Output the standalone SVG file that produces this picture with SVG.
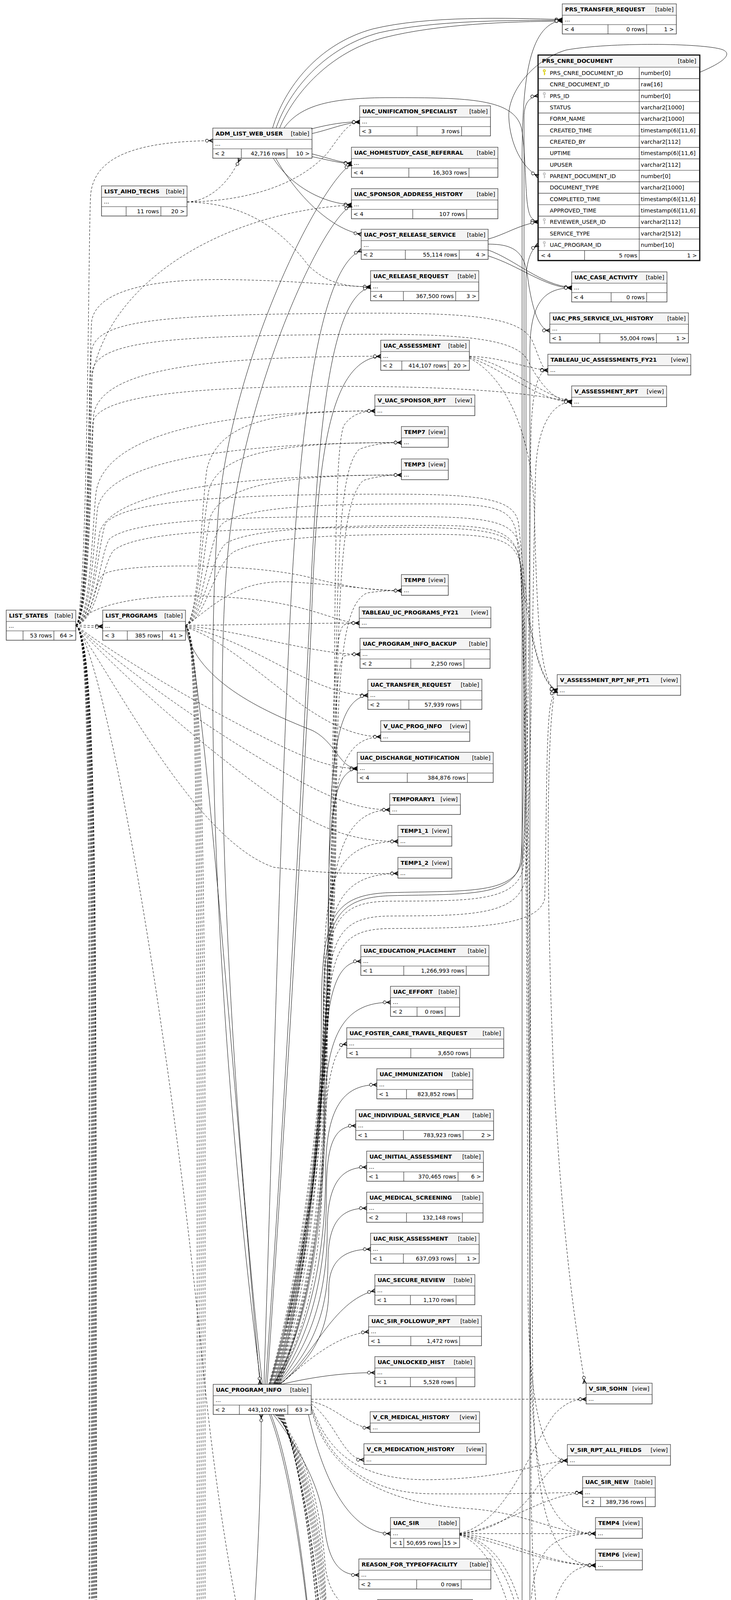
<svg xmlns="http://www.w3.org/2000/svg" width="1872" height="6320" viewBox="0 0 1872 6320">
<defs>
<style>
.bx{fill:#fff;stroke:#2b2b2b;stroke-width:1.4}
.hd{fill:#f4f4f4}
.ln{fill:none;stroke:#2b2b2b;stroke-width:1.2}
text{font-family:"DejaVu Sans","Liberation Sans",sans-serif;font-size:14.3px;fill:#000}
.b{font-weight:bold}
.r{text-anchor:end}
#edges path{fill:none;stroke:#000;stroke-width:1;marker-end:url(#cw)}
#edges path.d{stroke-dasharray:6,4}
.key{fill:none;stroke-width:2}
</style>
<marker id="cw" markerUnits="userSpaceOnUse" markerWidth="24" markerHeight="14" viewBox="-22 -7 24 14" refX="0" refY="0" orient="auto" overflow="visible">
<path d="M-11,0L0,-5L0,-3.4L-7.5,0L0,3.4L0,5Z" fill="#000" stroke="#000" stroke-width="0.6"/>
<path d="M-11,0H0" fill="none" stroke="#000" stroke-width="1.2"/>
<circle cx="-15" cy="0" r="3.8" fill="#fff" stroke="#000" stroke-width="1.2"/>
</marker>
</defs>
<rect x="0" y="0" width="1872" height="6320" fill="#fff"/>

<g id="nodes">
<g id="PRS_TRANSFER_REQUEST"><rect class="bx" x="1440" y="10" width="292" height="77"/><rect class="hd" x="1440.7" y="10.7" width="290.6" height="28.3"/><path class="ln" d="M1440,39h292M1440,63h292M1557,63v24M1656,63v24"/><text class="b" x="1447" y="28.5">PRS_TRANSFER_REQUEST</text><text class="r" x="1725" y="28.5">[table]</text><text x="1446" y="55">...</text><text x="1445" y="79.5">&lt; 4</text><text class="r" x="1651" y="79.5">0 rows</text><text class="r" x="1726" y="79.5">1 &gt;</text></g>

<g id="PRS_CNRE_DOCUMENT"><rect x="1378" y="141" width="414" height="526" fill="#fff" stroke="#000" stroke-width="3"/><rect class="hd" x="1379.5" y="142.5" width="411" height="29.5"/>
<path class="ln" d="M1378,172h414M1378,201.33h414M1378,230.67h414M1378,260h414M1378,289.33h414M1378,318.67h414M1378,348h414M1378,377.33h414M1378,406.67h414M1378,436h414M1378,465.33h414M1378,494.67h414M1378,524h414M1378,553.33h414M1378,582.67h414M1378,612h414M1378,641.33h414M1637,172V641.33M1497,641.33V667M1637,641.33V667"/>
<text class="b" x="1388" y="160.5">PRS_CNRE_DOCUMENT</text><text class="r" x="1783" y="160.5">[table]</text>
<g class="key" stroke="#d9cc00"><circle cx="1394" cy="181" r="2.6"/><path d="M1394,183.6v9M1394,189h2.6"/></g>
<g class="key" stroke="#bdbdbd"><circle cx="1394" cy="239.7" r="2.6"/><path d="M1394,242.3v9M1394,247.7h2.6"/><circle cx="1394" cy="445" r="2.6"/><path d="M1394,447.6v9M1394,453h2.6"/><circle cx="1394" cy="562.3" r="2.6"/><path d="M1394,564.9v9M1394,570.3h2.6"/><circle cx="1394" cy="621" r="2.6"/><path d="M1394,623.6v9M1394,629h2.6"/></g>
<text x="1408" y="192">PRS_CNRE_DOCUMENT_ID</text><text x="1641" y="192">number[0]</text>
<text x="1408" y="221.3">CNRE_DOCUMENT_ID</text><text x="1641" y="221.3">raw[16]</text>
<text x="1408" y="250.7">PRS_ID</text><text x="1641" y="250.7">number[0]</text>
<text x="1408" y="280">STATUS</text><text x="1641" y="280">varchar2[1000]</text>
<text x="1408" y="309.3">FORM_NAME</text><text x="1641" y="309.3">varchar2[1000]</text>
<text x="1408" y="338.7">CREATED_TIME</text><text x="1641" y="338.7">timestamp(6)[11,6]</text>
<text x="1408" y="368">CREATED_BY</text><text x="1641" y="368">varchar2[112]</text>
<text x="1408" y="397.3">UPTIME</text><text x="1641" y="397.3">timestamp(6)[11,6]</text>
<text x="1408" y="426.7">UPUSER</text><text x="1641" y="426.7">varchar2[112]</text>
<text x="1408" y="456">PARENT_DOCUMENT_ID</text><text x="1641" y="456">number[0]</text>
<text x="1408" y="485.3">DOCUMENT_TYPE</text><text x="1641" y="485.3">varchar2[1000]</text>
<text x="1408" y="514.7">COMPLETED_TIME</text><text x="1641" y="514.7">timestamp(6)[11,6]</text>
<text x="1408" y="544">APPROVED_TIME</text><text x="1641" y="544">timestamp(6)[11,6]</text>
<text x="1408" y="573.3">REVIEWER_USER_ID</text><text x="1641" y="573.3">varchar2[112]</text>
<text x="1408" y="602.7">SERVICE_TYPE</text><text x="1641" y="602.7">varchar2[512]</text>
<text x="1408" y="632">UAC_PROGRAM_ID</text><text x="1641" y="632">number[10]</text>
<text x="1385" y="659">&lt; 4</text><text class="r" x="1632" y="659">5 rows</text><text class="r" x="1785" y="659">1 &gt;</text></g>

<g id="ADM_LIST_WEB_USER"><rect class="bx" x="545" y="328" width="254" height="77"/><rect class="hd" x="545.7" y="328.7" width="252.6" height="28.3"/><path class="ln" d="M545,357h254M545,381h254M618,381v24M735,381v24"/><text class="b" x="552" y="346.5">ADM_LIST_WEB_USER</text><text class="r" x="792" y="346.5">[table]</text><text x="551" y="373">...</text><text x="550" y="397.5">&lt; 2</text><text class="r" x="730" y="397.5">42,716 rows</text><text class="r" x="793" y="397.5">10 &gt;</text></g>

<g id="LIST_AIHD_TECHS"><rect class="bx" x="260" y="476" width="219" height="77"/><rect class="hd" x="260.7" y="476.7" width="217.6" height="28.3"/><path class="ln" d="M260,505h219M260,529h219M323,529v24M412,529v24"/><text class="b" x="267" y="494.5">LIST_AIHD_TECHS</text><text class="r" x="472" y="494.5">[table]</text><text x="266" y="521">...</text><text class="r" x="407" y="545.5">11 rows</text><text class="r" x="473" y="545.5">20 &gt;</text></g>

<g id="UAC_UNIFICATION_SPECIALIST"><rect class="bx" x="921" y="271" width="335" height="77"/><rect class="hd" x="921.7" y="271.7" width="333.6" height="28.3"/><path class="ln" d="M921,300h335M921,324h335M1068,324v24M1182,324v24"/><text class="b" x="928" y="289.5">UAC_UNIFICATION_SPECIALIST</text><text class="r" x="1249" y="289.5">[table]</text><text x="927" y="316">...</text><text x="926" y="340.5">&lt; 3</text><text class="r" x="1177" y="340.5">3 rows</text></g>

<g id="UAC_HOMESTUDY_CASE_REFERRAL"><rect class="bx" x="900" y="377" width="375" height="77"/><rect class="hd" x="900.7" y="377.7" width="373.6" height="28.3"/><path class="ln" d="M900,406h375M900,430h375M1047,430v24M1201,430v24"/><text class="b" x="907" y="395.5">UAC_HOMESTUDY_CASE_REFERRAL</text><text class="r" x="1268" y="395.5">[table]</text><text x="906" y="422">...</text><text x="905" y="446.5">&lt; 4</text><text class="r" x="1196" y="446.5">16,303 rows</text></g>

<g id="UAC_SPONSOR_ADDRESS_HISTORY"><rect class="bx" x="900" y="483" width="375" height="77"/><rect class="hd" x="900.7" y="483.7" width="373.6" height="28.3"/><path class="ln" d="M900,512h375M900,536h375M1057,536v24M1195,536v24"/><text class="b" x="907" y="501.5">UAC_SPONSOR_ADDRESS_HISTORY</text><text class="r" x="1268" y="501.5">[table]</text><text x="906" y="528">...</text><text x="905" y="552.5">&lt; 4</text><text class="r" x="1190" y="552.5">107 rows</text></g>

<g id="UAC_POST_RELEASE_SERVICE"><rect class="bx" x="925" y="587" width="325" height="77"/><rect class="hd" x="925.7" y="587.7" width="323.6" height="28.3"/><path class="ln" d="M925,616h325M925,640h325M1038,640v24M1176,640v24"/><text class="b" x="932" y="605.5">UAC_POST_RELEASE_SERVICE</text><text class="r" x="1243" y="605.5">[table]</text><text x="931" y="632">...</text><text x="930" y="656.5">&lt; 2</text><text class="r" x="1171" y="656.5">55,114 rows</text><text class="r" x="1244" y="656.5">4 &gt;</text></g>

<g id="UAC_RELEASE_REQUEST"><rect class="bx" x="949" y="693" width="277" height="77"/><rect class="hd" x="949.7" y="693.7" width="275.6" height="28.3"/><path class="ln" d="M949,722h277M949,746h277M1033,746v24M1167,746v24"/><text class="b" x="956" y="711.5">UAC_RELEASE_REQUEST</text><text class="r" x="1219" y="711.5">[table]</text><text x="955" y="738">...</text><text x="954" y="762.5">&lt; 4</text><text class="r" x="1162" y="762.5">367,500 rows</text><text class="r" x="1220" y="762.5">3 &gt;</text></g>

<g id="UAC_CASE_ACTIVITY"><rect class="bx" x="1464" y="696" width="244" height="77"/><rect class="hd" x="1464.7" y="696.7" width="242.6" height="28.3"/><path class="ln" d="M1464,725h244M1464,749h244M1565,749v24M1656,749v24"/><text class="b" x="1471" y="714.5">UAC_CASE_ACTIVITY</text><text class="r" x="1701" y="714.5">[table]</text><text x="1470" y="741">...</text><text x="1469" y="765.5">&lt; 4</text><text class="r" x="1651" y="765.5">0 rows</text></g>

<g id="UAC_PRS_SERVICE_LVL_HISTORY"><rect class="bx" x="1408" y="801" width="355" height="77"/><rect class="hd" x="1408.7" y="801.7" width="353.6" height="28.3"/><path class="ln" d="M1408,830h355M1408,854h355M1536,854v24M1681,854v24"/><text class="b" x="1415" y="819.5">UAC_PRS_SERVICE_LVL_HISTORY</text><text class="r" x="1756" y="819.5">[table]</text><text x="1414" y="846">...</text><text x="1413" y="870.5">&lt; 1</text><text class="r" x="1676" y="870.5">55,004 rows</text><text class="r" x="1757" y="870.5">1 &gt;</text></g>

<g id="UAC_ASSESSMENT"><rect class="bx" x="975" y="871" width="227" height="77"/><rect class="hd" x="975.7" y="871.7" width="225.6" height="28.3"/><path class="ln" d="M975,900h227M975,924h227M1029,924v24M1148,924v24"/><text class="b" x="982" y="889.5">UAC_ASSESSMENT</text><text class="r" x="1195" y="889.5">[table]</text><text x="981" y="916">...</text><text x="980" y="940.5">&lt; 2</text><text class="r" x="1143" y="940.5">414,107 rows</text><text class="r" x="1196" y="940.5">20 &gt;</text></g>

<g id="TABLEAU_UC_ASSESSMENTS_FY21"><rect class="bx" x="1403" y="907" width="366" height="53"/><rect class="hd" x="1403.7" y="907.7" width="364.6" height="28.3"/><path class="ln" d="M1403,936h366"/><text class="b" x="1410" y="925.5">TABLEAU_UC_ASSESSMENTS_FY21</text><text class="r" x="1762" y="925.5">[view]</text><text x="1409" y="952">...</text></g>

<g id="V_ASSESSMENT_RPT"><rect class="bx" x="1464" y="988" width="243" height="53"/><rect class="hd" x="1464.7" y="988.7" width="241.6" height="28.3"/><path class="ln" d="M1464,1017h243"/><text class="b" x="1471" y="1006.5">V_ASSESSMENT_RPT</text><text class="r" x="1700" y="1006.5">[view]</text><text x="1470" y="1033">...</text></g>

<g id="V_UAC_SPONSOR_RPT"><rect class="bx" x="960" y="1011" width="256" height="53"/><rect class="hd" x="960.7" y="1011.7" width="254.6" height="28.3"/><path class="ln" d="M960,1040h256"/><text class="b" x="967" y="1029.5">V_UAC_SPONSOR_RPT</text><text class="r" x="1209" y="1029.5">[view]</text><text x="966" y="1056">...</text></g>

<g id="TEMP7"><rect class="bx" x="1028" y="1092" width="120" height="53"/><rect class="hd" x="1028.7" y="1092.7" width="118.6" height="28.3"/><path class="ln" d="M1028,1121h120"/><text class="b" x="1035" y="1110.5">TEMP7</text><text class="r" x="1141" y="1110.5">[view]</text><text x="1034" y="1137">...</text></g>

<g id="TEMP3"><rect class="bx" x="1028" y="1175" width="120" height="53"/><rect class="hd" x="1028.7" y="1175.7" width="118.6" height="28.3"/><path class="ln" d="M1028,1204h120"/><text class="b" x="1035" y="1193.5">TEMP3</text><text class="r" x="1141" y="1193.5">[view]</text><text x="1034" y="1220">...</text></g>

<g id="TEMP8"><rect class="bx" x="1028" y="1471" width="120" height="53"/><rect class="hd" x="1028.7" y="1471.7" width="118.6" height="28.3"/><path class="ln" d="M1028,1500h120"/><text class="b" x="1035" y="1489.5">TEMP8</text><text class="r" x="1141" y="1489.5">[view]</text><text x="1034" y="1516">...</text></g>

<g id="TABLEAU_UC_PROGRAMS_FY21"><rect class="bx" x="920" y="1554" width="337" height="53"/><rect class="hd" x="920.7" y="1554.7" width="335.6" height="28.3"/><path class="ln" d="M920,1583h337"/><text class="b" x="927" y="1572.5">TABLEAU_UC_PROGRAMS_FY21</text><text class="r" x="1250" y="1572.5">[view]</text><text x="926" y="1599">...</text></g>

<g id="LIST_STATES"><rect class="bx" x="16" y="1562" width="178" height="77"/><rect class="hd" x="16.7" y="1562.7" width="176.6" height="28.3"/><path class="ln" d="M16,1591h178M16,1615h178M59,1615v24M138,1615v24"/><text class="b" x="23" y="1580.5">LIST_STATES</text><text class="r" x="187" y="1580.5">[table]</text><text x="22" y="1607">...</text><text class="r" x="133" y="1631.5">53 rows</text><text class="r" x="188" y="1631.5">64 &gt;</text></g>

<g id="LIST_PROGRAMS"><rect class="bx" x="263" y="1562" width="212" height="77"/><rect class="hd" x="263.7" y="1562.7" width="210.6" height="28.3"/><path class="ln" d="M263,1591h212M263,1615h212M326,1615v24M416,1615v24"/><text class="b" x="270" y="1580.5">LIST_PROGRAMS</text><text class="r" x="468" y="1580.5">[table]</text><text x="269" y="1607">...</text><text x="268" y="1631.5">&lt; 3</text><text class="r" x="411" y="1631.5">385 rows</text><text class="r" x="469" y="1631.5">41 &gt;</text></g>

<g id="UAC_PROGRAM_INFO_BACKUP"><rect class="bx" x="922" y="1634" width="333" height="77"/><rect class="hd" x="922.7" y="1634.7" width="331.6" height="28.3"/><path class="ln" d="M922,1663h333M922,1687h333M1052,1687v24M1188,1687v24"/><text class="b" x="929" y="1652.5">UAC_PROGRAM_INFO_BACKUP</text><text class="r" x="1248" y="1652.5">[table]</text><text x="928" y="1679">...</text><text x="927" y="1703.5">&lt; 2</text><text class="r" x="1183" y="1703.5">2,250 rows</text></g>

<g id="V_ASSESSMENT_RPT_NF_PT1"><rect class="bx" x="1427" y="1727" width="316" height="53"/><rect class="hd" x="1427.7" y="1727.7" width="314.6" height="28.3"/><path class="ln" d="M1427,1756h316"/><text class="b" x="1434" y="1745.5">V_ASSESSMENT_RPT_NF_PT1</text><text class="r" x="1736" y="1745.5">[view]</text><text x="1433" y="1772">...</text></g>

<g id="UAC_TRANSFER_REQUEST"><rect class="bx" x="942" y="1739" width="292" height="77"/><rect class="hd" x="942.7" y="1739.7" width="290.6" height="28.3"/><path class="ln" d="M942,1768h292M942,1792h292M1047,1792v24M1180,1792v24"/><text class="b" x="949" y="1757.5">UAC_TRANSFER_REQUEST</text><text class="r" x="1227" y="1757.5">[table]</text><text x="948" y="1784">...</text><text x="947" y="1808.5">&lt; 2</text><text class="r" x="1175" y="1808.5">57,939 rows</text></g>

<g id="V_UAC_PROG_INFO"><rect class="bx" x="975" y="1845" width="228" height="53"/><rect class="hd" x="975.7" y="1845.7" width="226.6" height="28.3"/><path class="ln" d="M975,1874h228"/><text class="b" x="982" y="1863.5">V_UAC_PROG_INFO</text><text class="r" x="1196" y="1863.5">[view]</text><text x="981" y="1890">...</text></g>

<g id="UAC_DISCHARGE_NOTIFICATION"><rect class="bx" x="915" y="1926" width="348" height="77"/><rect class="hd" x="915.7" y="1926.7" width="346.6" height="28.3"/><path class="ln" d="M915,1955h348M915,1979h348M1043,1979v24M1197,1979v24"/><text class="b" x="922" y="1944.5">UAC_DISCHARGE_NOTIFICATION</text><text class="r" x="1256" y="1944.5">[table]</text><text x="921" y="1971">...</text><text x="920" y="1995.5">&lt; 4</text><text class="r" x="1192" y="1995.5">384,876 rows</text></g>

<g id="TEMPORARY1"><rect class="bx" x="998" y="2032" width="181" height="53"/><rect class="hd" x="998.7" y="2032.7" width="179.6" height="28.3"/><path class="ln" d="M998,2061h181"/><text class="b" x="1005" y="2050.5">TEMPORARY1</text><text class="r" x="1172" y="2050.5">[view]</text><text x="1004" y="2077">...</text></g>

<g id="TEMP1_1"><rect class="bx" x="1019" y="2113" width="138" height="53"/><rect class="hd" x="1019.7" y="2113.7" width="136.6" height="28.3"/><path class="ln" d="M1019,2142h138"/><text class="b" x="1026" y="2131.5">TEMP1_1</text><text class="r" x="1150" y="2131.5">[view]</text><text x="1025" y="2158">...</text></g>

<g id="TEMP1_2"><rect class="bx" x="1019" y="2195" width="138" height="53"/><rect class="hd" x="1019.7" y="2195.7" width="136.6" height="28.3"/><path class="ln" d="M1019,2224h138"/><text class="b" x="1026" y="2213.5">TEMP1_2</text><text class="r" x="1150" y="2213.5">[view]</text><text x="1025" y="2240">...</text></g>

<g id="UAC_EDUCATION_PLACEMENT"><rect class="bx" x="924" y="2420" width="328" height="77"/><rect class="hd" x="924.7" y="2420.7" width="326.6" height="28.3"/><path class="ln" d="M924,2449h328M924,2473h328M1034,2473v24M1194,2473v24"/><text class="b" x="931" y="2438.5">UAC_EDUCATION_PLACEMENT</text><text class="r" x="1245" y="2438.5">[table]</text><text x="930" y="2465">...</text><text x="929" y="2489.5">&lt; 1</text><text class="r" x="1189" y="2489.5">1,266,993 rows</text></g>

<g id="UAC_EFFORT"><rect class="bx" x="1000" y="2525" width="177" height="77"/><rect class="hd" x="1000.7" y="2525.7" width="175.6" height="28.3"/><path class="ln" d="M1000,2554h177M1000,2578h177M1068,2578v24M1140,2578v24"/><text class="b" x="1007" y="2543.5">UAC_EFFORT</text><text class="r" x="1170" y="2543.5">[table]</text><text x="1006" y="2570">...</text><text x="1005" y="2594.5">&lt; 2</text><text class="r" x="1135" y="2594.5">0 rows</text></g>

<g id="UAC_FOSTER_CARE_TRAVEL_REQUEST"><rect class="bx" x="888" y="2631" width="402" height="77"/><rect class="hd" x="888.7" y="2631.7" width="400.6" height="28.3"/><path class="ln" d="M888,2660h402M888,2684h402M1052,2684v24M1205,2684v24"/><text class="b" x="895" y="2649.5">UAC_FOSTER_CARE_TRAVEL_REQUEST</text><text class="r" x="1283" y="2649.5">[table]</text><text x="894" y="2676">...</text><text x="893" y="2700.5">&lt; 1</text><text class="r" x="1200" y="2700.5">3,650 rows</text></g>

<g id="UAC_IMMUNIZATION"><rect class="bx" x="965" y="2736" width="246" height="77"/><rect class="hd" x="965.7" y="2736.7" width="244.6" height="28.3"/><path class="ln" d="M965,2765h246M965,2789h246M1041,2789v24M1171,2789v24"/><text class="b" x="972" y="2754.5">UAC_IMMUNIZATION</text><text class="r" x="1204" y="2754.5">[table]</text><text x="971" y="2781">...</text><text x="970" y="2805.5">&lt; 1</text><text class="r" x="1166" y="2805.5">823,852 rows</text></g>

<g id="UAC_INDIVIDUAL_SERVICE_PLAN"><rect class="bx" x="911" y="2841" width="353" height="77"/><rect class="hd" x="911.7" y="2841.7" width="351.6" height="28.3"/><path class="ln" d="M911,2870h353M911,2894h353M1033,2894v24M1186,2894v24"/><text class="b" x="918" y="2859.5">UAC_INDIVIDUAL_SERVICE_PLAN</text><text class="r" x="1257" y="2859.5">[table]</text><text x="917" y="2886">...</text><text x="916" y="2910.5">&lt; 1</text><text class="r" x="1181" y="2910.5">783,923 rows</text><text class="r" x="1258" y="2910.5">2 &gt;</text></g>

<g id="UAC_INITIAL_ASSESSMENT"><rect class="bx" x="939" y="2947" width="299" height="77"/><rect class="hd" x="939.7" y="2947.7" width="297.6" height="28.3"/><path class="ln" d="M939,2976h299M939,3000h299M1034,3000v24M1173,3000v24"/><text class="b" x="946" y="2965.5">UAC_INITIAL_ASSESSMENT</text><text class="r" x="1231" y="2965.5">[table]</text><text x="945" y="2992">...</text><text x="944" y="3016.5">&lt; 1</text><text class="r" x="1168" y="3016.5">370,465 rows</text><text class="r" x="1232" y="3016.5">6 &gt;</text></g>

<g id="UAC_MEDICAL_SCREENING"><rect class="bx" x="939" y="3052" width="298" height="77"/><rect class="hd" x="939.7" y="3052.7" width="296.6" height="28.3"/><path class="ln" d="M939,3081h298M939,3105h298M1041,3105v24M1184,3105v24"/><text class="b" x="946" y="3070.5">UAC_MEDICAL_SCREENING</text><text class="r" x="1230" y="3070.5">[table]</text><text x="945" y="3097">...</text><text x="944" y="3121.5">&lt; 2</text><text class="r" x="1179" y="3121.5">132,148 rows</text></g>

<g id="UAC_RISK_ASSESSMENT"><rect class="bx" x="949" y="3157" width="278" height="77"/><rect class="hd" x="949.7" y="3157.7" width="276.6" height="28.3"/><path class="ln" d="M949,3186h278M949,3210h278M1033,3210v24M1167,3210v24"/><text class="b" x="956" y="3175.5">UAC_RISK_ASSESSMENT</text><text class="r" x="1220" y="3175.5">[table]</text><text x="955" y="3202">...</text><text x="954" y="3226.5">&lt; 1</text><text class="r" x="1162" y="3226.5">637,093 rows</text><text class="r" x="1221" y="3226.5">1 &gt;</text></g>

<g id="UAC_SECURE_REVIEW"><rect class="bx" x="960" y="3263" width="256" height="77"/><rect class="hd" x="960.7" y="3263.7" width="254.6" height="28.3"/><path class="ln" d="M960,3292h256M960,3316h256M1051,3316v24M1168,3316v24"/><text class="b" x="967" y="3281.5">UAC_SECURE_REVIEW</text><text class="r" x="1209" y="3281.5">[table]</text><text x="966" y="3308">...</text><text x="965" y="3332.5">&lt; 1</text><text class="r" x="1163" y="3332.5">1,170 rows</text></g>

<g id="UAC_SIR_FOLLOWUP_RPT"><rect class="bx" x="944" y="3368" width="289" height="77"/><rect class="hd" x="944.7" y="3368.7" width="287.6" height="28.3"/><path class="ln" d="M944,3397h289M944,3421h289M1052,3421v24M1177,3421v24"/><text class="b" x="951" y="3386.5">UAC_SIR_FOLLOWUP_RPT</text><text class="r" x="1226" y="3386.5">[table]</text><text x="950" y="3413">...</text><text x="949" y="3437.5">&lt; 1</text><text class="r" x="1172" y="3437.5">1,472 rows</text></g>

<g id="UAC_UNLOCKED_HIST"><rect class="bx" x="960" y="3473" width="256" height="77"/><rect class="hd" x="960.7" y="3473.7" width="254.6" height="28.3"/><path class="ln" d="M960,3502h256M960,3526h256M1051,3526v24M1168,3526v24"/><text class="b" x="967" y="3491.5">UAC_UNLOCKED_HIST</text><text class="r" x="1209" y="3491.5">[table]</text><text x="966" y="3518">...</text><text x="965" y="3542.5">&lt; 1</text><text class="r" x="1163" y="3542.5">5,528 rows</text></g>

<g id="UAC_PROGRAM_INFO"><rect class="bx" x="546" y="3544" width="251" height="77"/><rect class="hd" x="546.7" y="3544.7" width="249.6" height="28.3"/><path class="ln" d="M546,3573h251M546,3597h251M613,3597v24M737,3597v24"/><text class="b" x="553" y="3562.5">UAC_PROGRAM_INFO</text><text class="r" x="790" y="3562.5">[table]</text><text x="552" y="3589">...</text><text x="551" y="3613.5">&lt; 2</text><text class="r" x="732" y="3613.5">443,102 rows</text><text class="r" x="791" y="3613.5">63 &gt;</text></g>

<g id="V_SIR_SOHN"><rect class="bx" x="1501" y="3541" width="169" height="53"/><rect class="hd" x="1501.7" y="3541.7" width="167.6" height="28.3"/><path class="ln" d="M1501,3570h169"/><text class="b" x="1508" y="3559.5">V_SIR_SOHN</text><text class="r" x="1663" y="3559.5">[view]</text><text x="1507" y="3586">...</text></g>

<g id="V_CR_MEDICAL_HISTORY"><rect class="bx" x="948" y="3614" width="280" height="53"/><rect class="hd" x="948.7" y="3614.7" width="278.6" height="28.3"/><path class="ln" d="M948,3643h280"/><text class="b" x="955" y="3632.5">V_CR_MEDICAL_HISTORY</text><text class="r" x="1221" y="3632.5">[view]</text><text x="954" y="3659">...</text></g>

<g id="V_CR_MEDICATION_HISTORY"><rect class="bx" x="932" y="3696" width="313" height="53"/><rect class="hd" x="932.7" y="3696.7" width="311.6" height="28.3"/><path class="ln" d="M932,3725h313"/><text class="b" x="939" y="3714.5">V_CR_MEDICATION_HISTORY</text><text class="r" x="1238" y="3714.5">[view]</text><text x="938" y="3741">...</text></g>

<g id="V_SIR_RPT_ALL_FIELDS"><rect class="bx" x="1453" y="3698" width="264" height="53"/><rect class="hd" x="1453.7" y="3698.7" width="262.6" height="28.3"/><path class="ln" d="M1453,3727h264"/><text class="b" x="1460" y="3716.5">V_SIR_RPT_ALL_FIELDS</text><text class="r" x="1710" y="3716.5">[view]</text><text x="1459" y="3743">...</text></g>

<g id="UAC_SIR_NEW"><rect class="bx" x="1492" y="3780" width="186" height="77"/><rect class="hd" x="1492.7" y="3780.7" width="184.6" height="28.3"/><path class="ln" d="M1492,3809h186M1492,3833h186M1538,3833v24M1653,3833v24"/><text class="b" x="1499" y="3798.5">UAC_SIR_NEW</text><text class="r" x="1671" y="3798.5">[table]</text><text x="1498" y="3825">...</text><text x="1497" y="3849.5">&lt; 2</text><text class="r" x="1648" y="3849.5">389,736 rows</text></g>

<g id="UAC_SIR"><rect class="bx" x="1000" y="3885" width="177" height="77"/><rect class="hd" x="1000.7" y="3885.7" width="175.6" height="28.3"/><path class="ln" d="M1000,3914h177M1000,3938h177M1034,3938v24M1134,3938v24"/><text class="b" x="1007" y="3903.5">UAC_SIR</text><text class="r" x="1170" y="3903.5">[table]</text><text x="1006" y="3930">...</text><text x="1005" y="3954.5">&lt; 1</text><text class="r" x="1129" y="3954.5">50,695 rows</text><text class="r" x="1171" y="3954.5">15 &gt;</text></g>

<g id="TEMP4"><rect class="bx" x="1525" y="3885" width="120" height="53"/><rect class="hd" x="1525.7" y="3885.7" width="118.6" height="28.3"/><path class="ln" d="M1525,3914h120"/><text class="b" x="1532" y="3903.5">TEMP4</text><text class="r" x="1638" y="3903.5">[view]</text><text x="1531" y="3930">...</text></g>

<g id="TEMP6"><rect class="bx" x="1525" y="3966" width="120" height="53"/><rect class="hd" x="1525.7" y="3966.7" width="118.6" height="28.3"/><path class="ln" d="M1525,3995h120"/><text class="b" x="1532" y="3984.5">TEMP6</text><text class="r" x="1638" y="3984.5">[view]</text><text x="1531" y="4011">...</text></g>

<g id="REASON_FOR_TYPEOFFACILITY"><rect class="bx" x="919" y="3991" width="338" height="77"/><rect class="hd" x="919.7" y="3991.7" width="336.6" height="28.3"/><path class="ln" d="M919,4020h338M919,4044h338M1067,4044v24M1181,4044v24"/><text class="b" x="926" y="4009.5">REASON_FOR_TYPEOFFACILITY</text><text class="r" x="1250" y="4009.5">[table]</text><text x="925" y="4036">...</text><text x="924" y="4060.5">&lt; 2</text><text class="r" x="1176" y="4060.5">0 rows</text></g>

<g id="TABLEAU_SIRS_FULL"><rect class="bx" x="967" y="4095" width="243" height="53"/><rect class="hd" x="967.7" y="4095.7" width="241.6" height="28.3"/><path class="ln" d="M967,4124h243"/><text class="b" x="974" y="4113.5">TABLEAU_SIRS_FULL</text><text class="r" x="1203" y="4113.5">[view]</text><text x="973" y="4140">...</text></g>

<g id="TABLEAU_SIRS_FULL_FY21"><rect class="bx" x="939" y="4177" width="296" height="53"/><rect class="hd" x="939.7" y="4177.7" width="294.6" height="28.3"/><path class="ln" d="M939,4206h296"/><text class="b" x="946" y="4195.5">TABLEAU_SIRS_FULL_FY21</text><text class="r" x="1228" y="4195.5">[view]</text><text x="945" y="4222">...</text></g>

<g id="TABLEAU_SIRS_FY21"><rect class="bx" x="967" y="4258" width="244" height="53"/><rect class="hd" x="967.7" y="4258.7" width="242.6" height="28.3"/><path class="ln" d="M967,4287h244"/><text class="b" x="974" y="4276.5">TABLEAU_SIRS_FY21</text><text class="r" x="1204" y="4276.5">[view]</text><text x="973" y="4303">...</text></g>

<g id="TABLEAU_SIRS_LEAN"><rect class="bx" x="965" y="4339" width="246" height="53"/><rect class="hd" x="965.7" y="4339.7" width="244.6" height="28.3"/><path class="ln" d="M965,4368h246"/><text class="b" x="972" y="4357.5">TABLEAU_SIRS_LEAN</text><text class="r" x="1204" y="4357.5">[view]</text><text x="971" y="4384">...</text></g>

<g id="V_SIR_RPT_SYNOP"><rect class="bx" x="1475" y="4338" width="221" height="53"/><rect class="hd" x="1475.7" y="4338.7" width="219.6" height="28.3"/><path class="ln" d="M1475,4367h221"/><text class="b" x="1482" y="4356.5">V_SIR_RPT_SYNOP</text><text class="r" x="1689" y="4356.5">[view]</text><text x="1481" y="4383">...</text></g>

<g id="TABLEAU_SIRS_LEAN_FY21"><rect class="bx" x="939" y="4420" width="298" height="53"/><rect class="hd" x="939.7" y="4420.7" width="296.6" height="28.3"/><path class="ln" d="M939,4449h298"/><text class="b" x="946" y="4438.5">TABLEAU_SIRS_LEAN_FY21</text><text class="r" x="1230" y="4438.5">[view]</text><text x="945" y="4465">...</text></g>

<g id="TABLEAU_SIRS_WITH_ADDENDA_FULL"><rect class="bx" x="891" y="4502" width="396" height="53"/><rect class="hd" x="891.7" y="4502.7" width="394.6" height="28.3"/><path class="ln" d="M891,4531h396"/><text class="b" x="898" y="4520.5">TABLEAU_SIRS_WITH_ADDENDA_FULL</text><text class="r" x="1280" y="4520.5">[view]</text><text x="897" y="4547">...</text></g>

<g id="TABLEAU_SIRS_WITH_ADDENDA_FULL_FY21"><rect class="bx" x="864" y="4583" width="447" height="53"/><rect class="hd" x="864.7" y="4583.7" width="445.6" height="28.3"/><path class="ln" d="M864,4612h447"/><text class="b" x="871" y="4601.5">TABLEAU_SIRS_WITH_ADDENDA_FULL_FY21</text><text class="r" x="1304" y="4601.5">[view]</text><text x="870" y="4628">...</text></g>

<g id="TEMP_DD_IMPORT2"><rect class="bx" x="971" y="4700" width="236" height="77"/><rect class="hd" x="971.7" y="4700.7" width="234.6" height="28.3"/><path class="ln" d="M971,4729h236M971,4753h236M1063,4753v24M1159,4753v24"/><text class="b" x="978" y="4718.5">TEMP_DD_IMPORT2</text><text class="r" x="1200" y="4718.5">[table]</text><text x="977" y="4745">...</text><text x="976" y="4769.5">&lt; 1</text><text class="r" x="1154" y="4769.5">30 rows</text></g>

<g id="TT_UAC_CASESTATUS_INFO"><rect class="bx" x="936" y="4806" width="305" height="77"/><rect class="hd" x="936.7" y="4806.7" width="303.6" height="28.3"/><path class="ln" d="M936,4835h305M936,4859h305M1068,4859v24M1173,4859v24"/><text class="b" x="943" y="4824.5">TT_UAC_CASESTATUS_INFO</text><text class="r" x="1234" y="4824.5">[table]</text><text x="942" y="4851">...</text><text x="941" y="4875.5">&lt; 1</text><text class="r" x="1168" y="4875.5">0 rows</text></g>

<g id="UAC_CASE_REVIEW"><rect class="bx" x="972" y="4912" width="231" height="77"/><rect class="hd" x="972.7" y="4912.7" width="229.6" height="28.3"/><path class="ln" d="M972,4941h231M972,4965h231M1033,4965v24M1155,4965v24"/><text class="b" x="979" y="4930.5">UAC_CASE_REVIEW</text><text class="r" x="1196" y="4930.5">[table]</text><text x="978" y="4957">...</text><text x="977" y="4981.5">&lt; 1</text><text class="r" x="1150" y="4981.5">620,623 rows</text><text class="r" x="1197" y="4981.5">1 &gt;</text></g>

<g id="V_SIR_RPT"><rect class="bx" x="1510" y="4946" width="151" height="53"/><rect class="hd" x="1510.7" y="4946.7" width="149.6" height="28.3"/><path class="ln" d="M1510,4975h151"/><text class="b" x="1517" y="4964.5">V_SIR_RPT</text><text class="r" x="1654" y="4964.5">[view]</text><text x="1516" y="4991">...</text></g>

<g id="UAC_DOCTOR_VISIT"><rect class="bx" x="970" y="5017" width="237" height="77"/><rect class="hd" x="970.7" y="5017.7" width="235.6" height="28.3"/><path class="ln" d="M970,5046h237M970,5070h237M1067,5070v24M1156,5070v24"/><text class="b" x="977" y="5035.5">UAC_DOCTOR_VISIT</text><text class="r" x="1200" y="5035.5">[table]</text><text x="976" y="5062">...</text><text x="975" y="5086.5">&lt; 4</text><text class="r" x="1151" y="5086.5">0 rows</text></g>

<g id="UAC_DOCUMENTS"><rect class="bx" x="977" y="5122" width="222" height="77"/><rect class="hd" x="977.7" y="5122.7" width="220.6" height="28.3"/><path class="ln" d="M977,5151h222M977,5175h222M1034,5175v24M1168,5175v24"/><text class="b" x="984" y="5140.5">UAC_DOCUMENTS</text><text class="r" x="1192" y="5140.5">[table]</text><text x="983" y="5167">...</text><text x="982" y="5191.5">&lt; 1</text><text class="r" x="1163" y="5191.5">8,972,466 rows</text></g>

<g id="V_SIR_ALEXIS"><rect class="bx" x="1495" y="5263" width="181" height="53"/><rect class="hd" x="1495.7" y="5263.7" width="179.6" height="28.3"/><path class="ln" d="M1495,5292h181"/><text class="b" x="1502" y="5281.5">V_SIR_ALEXIS</text><text class="r" x="1669" y="5281.5">[view]</text><text x="1501" y="5308">...</text></g>

<g id="UAC_INFO"><rect class="bx" x="275" y="5309" width="187" height="77"/><rect class="hd" x="275.7" y="5309.7" width="185.6" height="28.3"/><path class="ln" d="M275,5338h187M275,5362h187M310,5362v24M418,5362v24"/><text class="b" x="282" y="5327.5">UAC_INFO</text><text class="r" x="455" y="5327.5">[table]</text><text x="281" y="5354">...</text><text x="280" y="5378.5">&lt; 1</text><text class="r" x="413" y="5378.5">405,635 rows</text><text class="r" x="456" y="5378.5">53 &gt;</text></g>

<g id="V_UAC_ENROLLMENT_RPT_DUMMY"><rect class="bx" x="905" y="5335" width="367" height="53"/><rect class="hd" x="905.7" y="5335.7" width="365.6" height="28.3"/><path class="ln" d="M905,5364h367"/><text class="b" x="912" y="5353.5">V_UAC_ENROLLMENT_RPT_DUMMY</text><text class="r" x="1265" y="5353.5">[view]</text><text x="911" y="5380">...</text></g>

<g id="V_15DAY_ENROUTE"><rect class="bx" x="972" y="5417" width="231" height="53"/><rect class="hd" x="972.7" y="5417.7" width="229.6" height="28.3"/><path class="ln" d="M972,5446h231"/><text class="b" x="979" y="5435.5">V_15DAY_ENROUTE</text><text class="r" x="1196" y="5435.5">[view]</text><text x="978" y="5462">...</text></g>

<g id="V_UAC_ENROLLMENT_RPT"><rect class="bx" x="944" y="5499" width="289" height="53"/><rect class="hd" x="944.7" y="5499.7" width="287.6" height="28.3"/><path class="ln" d="M944,5528h289"/><text class="b" x="951" y="5517.5">V_UAC_ENROLLMENT_RPT</text><text class="r" x="1226" y="5517.5">[view]</text><text x="950" y="5544">...</text></g>

<g id="V_UAC_PROGRAM_INFO_MIR"><rect class="bx" x="933" y="5580" width="311" height="53"/><rect class="hd" x="933.7" y="5580.7" width="309.6" height="28.3"/><path class="ln" d="M933,5609h311"/><text class="b" x="940" y="5598.5">V_UAC_PROGRAM_INFO_MIR</text><text class="r" x="1237" y="5598.5">[view]</text><text x="939" y="5625">...</text></g>

<g id="TEMP9"><rect class="bx" x="1028" y="5697" width="119" height="53"/><rect class="hd" x="1028.7" y="5697.7" width="117.6" height="28.3"/><path class="ln" d="M1028,5726h119"/><text class="b" x="1035" y="5715.5">TEMP9</text><text class="r" x="1140" y="5715.5">[view]</text><text x="1034" y="5742">...</text></g>

<g id="V_ADRIANA_SPONSOR_SEARCH_SL"><rect class="bx" x="904" y="5923" width="368" height="53"/><rect class="hd" x="904.7" y="5923.7" width="366.6" height="28.3"/><path class="ln" d="M904,5952h368"/><text class="b" x="911" y="5941.5">V_ADRIANA_SPONSOR_SEARCH_SL</text><text class="r" x="1265" y="5941.5">[view]</text><text x="910" y="5968">...</text></g>

<g id="V_ADRIANA_SPONSOR_SEARCH_SI"><rect class="bx" x="907" y="6004" width="362" height="53"/><rect class="hd" x="907.7" y="6004.7" width="360.6" height="28.3"/><path class="ln" d="M907,6033h362"/><text class="b" x="914" y="6022.5">V_ADRIANA_SPONSOR_SEARCH_SI</text><text class="r" x="1262" y="6022.5">[view]</text><text x="913" y="6049">...</text></g>

<g id="V_UAC_SPONSOR_HOUSEHOLD"><rect class="bx" x="921" y="6085" width="333" height="53"/><rect class="hd" x="921.7" y="6085.7" width="331.6" height="28.3"/><path class="ln" d="M921,6114h333"/><text class="b" x="928" y="6103.5">V_UAC_SPONSOR_HOUSEHOLD</text><text class="r" x="1247" y="6103.5">[view]</text><text x="927" y="6130">...</text></g>
</g>

<g id="edges">
<path d="M698,328C728,225 815,112 955,74C1095,40 1300,46 1440,50"/>
<path d="M707,328C740,232 830,122 970,84C1110,52 1300,52 1440,52"/>
<path d="M716,328C752,240 845,132 985,96C1120,62 1300,55 1440,54"/>
<path d="M727,328C770,268 850,250 1000,250C1200,250 1318,252 1336,330C1350,420 1342,530 1360,556C1366,563 1372,567 1378,568"/>
<path d="M1250,612C1290,602 1330,575 1378,568"/>
<path d="M1792,185C1840,165 1882,140 1850,127C1800,110 1560,108 1450,128C1360,155 1300,240 1303,300C1306,370 1338,430 1378,451"/>
<path d="M797,330C845,318 880,312 921,312"/>
<path d="M799,342C850,330 885,314 921,313"/>
<path class="d" d="M479,517C640,515 770,470 840,390C870,350 890,313 921,312"/>
<path d="M799,394C840,404 870,416 900,418"/>
<path d="M799,401C842,410 872,418 900,419"/>
<path d="M668,3544C560,2700 520,1800 560,1300C600,900 820,470 900,420"/>
<path d="M700,405C740,470 820,520 900,524"/>
<path class="d" d="M194,1601C228,1590 230,1100 236,960C290,700 600,540 900,525"/>
<path d="M672,3544C580,2700 545,1800 585,1400C625,1000 820,570 900,526"/>
<path d="M706,405C760,500 845,585 925,600"/>
<path d="M676,3544C700,2800 722,2000 742,1600C770,1000 830,680 925,641"/>
<path class="d" d="M479,517C540,515 590,462 614,406"/>
<path class="d" d="M194,1601C225,1590 226,600 232,500C240,400 350,362 545,360"/>
<path class="d" d="M479,517C600,520 700,560 790,680C840,728 890,734 949,734"/>
<path class="d" d="M194,1601C226,1590 228,900 235,820C250,740 400,712 600,716C800,720 880,734 949,734"/>
<path d="M680,3544C732,2800 772,2000 792,1600C812,1100 845,760 949,735"/>
<path d="M684,3544C736,2800 780,2000 797,1600C812,1200 835,925 975,912"/>
<path class="d" d="M194,1601C230,1590 232,1200 240,1060C260,950 500,912 975,912"/>
<path d="M1250,640C1320,665 1385,730 1464,736"/>
<path d="M1250,655C1330,680 1392,734 1464,738"/>
<path d="M1250,625C1310,625 1340,640 1350,700C1360,780 1378,846 1408,846"/>
<path d="M462,5346C560,5400 700,5610 900,5615C1100,5620 1310,5640 1326,5580C1337,5500 1337,5000 1337,4000L1337,420C1337,220 1350,62 1440,52"/>
<path d="M462,5349C560,5420 700,5618 900,5623C1100,5628 1316,5650 1334,5580C1352,5500 1357,5000 1357,4000L1357,900C1357,780 1390,737 1464,737"/>
<path d="M690,3544C760,3300 823,3000 823,2600C823,2350 850,2290 1000,2285C1200,2280 1322,2290 1338,2200C1347,2100 1347,1800 1347,1500L1347,720C1347,680 1356,640 1378,627"/>
<path d="M692,3544C765,3300 828,3000 828,2600C828,2360 855,2298 1000,2293C1200,2288 1322,2298 1334,2200C1342,2100 1342,1800 1342,1500L1342,300C1342,265 1355,248 1378,245"/>
<path class="d" d="M1202,912C1290,915 1340,942 1403,948"/>
<path class="d" d="M1202,913C1300,930 1380,1010 1464,1028"/>
<path class="d" d="M1202,915C1290,945 1370,1022 1464,1030"/>
<path class="d" d="M1202,917C1290,960 1360,1100 1368,1300C1375,1550 1380,1760 1427,1768"/>
<path class="d" d="M194,1601C226,1590 228,1000 234,900C245,820 400,805 900,802C1200,800 1328,810 1362,870C1380,910 1388,948 1403,948"/>
<path class="d" d="M194,1601C227,1590 230,1050 236,950C250,870 450,860 900,856C1200,853 1320,870 1350,920C1380,980 1420,1029 1464,1029"/>
<path class="d" d="M194,1601C229,1590 231,1150 238,1080C255,1000 600,985 1000,990C1250,995 1380,1010 1464,1030"/>
<path class="d" d="M712,3544C800,3300 833,3000 833,2600C833,2360 860,2308 1000,2307C1200,2306 1325,2310 1340,2220C1355,2000 1355,1300 1360,1100C1365,980 1382,948 1403,948"/>
<path class="d" d="M714,3544C803,3300 836,3000 836,2650C836,2400 865,2346 1000,2345C1200,2344 1328,2345 1345,2250C1362,2000 1365,1400 1372,1200C1378,1080 1420,1029 1464,1029"/>
<path class="d" d="M716,3544C806,3300 838,3000 838,2700C838,2430 868,2378 1000,2377C1200,2376 1380,2375 1395,2300C1400,2100 1398,1900 1408,1815C1413,1785 1420,1772 1427,1769"/>
<path class="d" d="M194,1601C240,1590 250,1400 270,1340C320,1280 600,1265 1000,1265C1250,1265 1318,1280 1328,1340C1340,1450 1358,1740 1427,1768"/>
<path class="d" d="M475,1601C520,1590 530,1380 570,1340C640,1290 900,1290 1100,1290C1270,1290 1313,1300 1323,1370C1338,1500 1368,1755 1427,1767"/>
<path class="d" d="M1418,1786C1400,1900 1398,2300 1420,2800C1450,3300 1490,3480 1497,3542"/>
<path class="d" d="M194,1601C232,1590 236,1350 246,1260C270,1100 600,1052 960,1052"/>
<path class="d" d="M475,1601C510,1590 515,1300 530,1200C560,1080 700,1052 960,1052"/>
<path class="d" d="M688,3544C760,3300 850,2800 855,2000C858,1400 860,1150 880,1090C900,1060 930,1052 960,1052"/>
<path class="d" d="M194,1601C234,1590 240,1380 250,1300C280,1160 700,1133 1028,1133"/>
<path class="d" d="M475,1601C512,1590 518,1330 536,1250C570,1150 750,1133 1028,1133"/>
<path class="d" d="M690,3544C765,3300 852,2800 858,2000C862,1400 870,1200 920,1150C960,1135 1000,1133 1028,1133"/>
<path class="d" d="M194,1601C236,1590 244,1420 256,1360C300,1240 700,1216 1028,1216"/>
<path class="d" d="M475,1601C514,1590 522,1380 540,1320C580,1230 780,1216 1028,1216"/>
<path class="d" d="M692,3544C770,3300 855,2800 860,2000C865,1450 880,1280 930,1230C970,1218 1000,1216 1028,1216"/>
<path class="d" d="M194,1601C236,1590 240,1500 262,1472C300,1440 650,1440 800,1480C900,1505 960,1512 1028,1512"/>
<path class="d" d="M475,1601C540,1560 600,1480 750,1490C900,1500 960,1512 1028,1512"/>
<path class="d" d="M694,3544C773,3300 858,2800 862,2000C866,1650 890,1540 940,1518C980,1512 1000,1512 1028,1512"/>
<path class="d" d="M194,1601C230,1540 400,1515 600,1530C800,1545 860,1595 920,1595"/>
<path class="d" d="M475,1601C600,1600 800,1595 920,1595"/>
<path class="d" d="M696,3544C776,3300 846,2800 850,2100C852,1750 860,1620 880,1600C895,1595 905,1595 920,1595"/>
<path class="d" d="M475,1603C600,1610 800,1675 922,1675"/>
<path class="d" d="M698,3544C779,3300 848,2800 852,2200C855,1850 862,1700 880,1680C895,1675 905,1675 922,1675"/>
<path class="d" d="M475,1604C650,1640 800,1780 942,1780"/>
<path d="M700,3544C782,3300 840,2800 842,2300C843,1950 860,1790 942,1780"/>
<path class="d" d="M475,1605C640,1660 800,1886 975,1886"/>
<path class="d" d="M702,3544C785,3300 844,2800 846,2300C848,2000 870,1890 975,1886"/>
<path d="M475,1606C500,1750 700,1830 800,1870C860,1900 870,1967 915,1967"/>
<path class="d" d="M194,1601C300,1680 500,1800 700,1900C800,1950 860,1967 915,1967"/>
<path d="M704,3544C788,3300 838,2800 840,2400C841,2100 850,1975 915,1968"/>
<path class="d" d="M194,1601C300,1700 550,1880 750,1990C850,2045 920,2073 998,2073"/>
<path class="d" d="M706,3544C790,3300 842,2800 844,2450C845,2200 880,2075 998,2073"/>
<path class="d" d="M194,1601C300,1720 560,1950 760,2080C860,2140 940,2154 1019,2154"/>
<path class="d" d="M708,3544C793,3300 828,2800 830,2500C831,2250 860,2156 1019,2154"/>
<path class="d" d="M194,1601C300,1750 500,2150 700,2220C850,2240 950,2236 1019,2236"/>
<path class="d" d="M710,3544C796,3300 828,2900 830,2600C831,2330 860,2238 1019,2236"/>
<path class="d" d="M194,1601C220,1600 240,1602 263,1603"/>
<path class="d" d="M194,1602C220,1608 242,1606 263,1604"/>
<path d="M475,1601C520,1700 600,2800 666,3544"/>
<path d="M700,3544C790,3400 830,3100 830,2800C830,2550 860,2461 924,2461"/>
<path d="M702,3544C792,3400 832,3100 832,2850C832,2620 900,2566 1000,2566"/>
<path class="d" d="M704,3544C795,3400 822,3200 826,3000C830,2800 850,2680 888,2672"/>
<path d="M706,3544C797,3400 834,3200 834,3000C834,2820 890,2777 965,2777"/>
<path d="M708,3544C799,3420 836,3250 836,3050C836,2920 860,2882 911,2882"/>
<path d="M710,3544C800,3440 838,3300 838,3150C838,3020 880,2988 939,2988"/>
<path d="M712,3544C802,3460 840,3350 840,3230C840,3120 880,3093 939,3093"/>
<path d="M714,3544C804,3480 842,3400 842,3300C842,3220 890,3198 949,3198"/>
<path d="M716,3544C800,3480 850,3330 960,3304"/>
<path class="d" d="M718,3544C790,3480 860,3420 944,3409"/>
<path d="M720,3544C800,3525 880,3514 960,3514"/>
<path class="d" d="M797,3582L1501,3582"/>
<path class="d" d="M797,3588C860,3600 900,3655 948,3655"/>
<path class="d" d="M797,3594C860,3640 880,3737 932,3737"/>
<path class="d" d="M797,3598C840,3720 920,3790 1100,3788C1300,3785 1380,3745 1453,3739"/>
<path class="d" d="M797,3602C840,3750 950,3822 1100,3824C1300,3826 1400,3821 1492,3821"/>
<path class="d" d="M797,3606C840,3780 1000,3850 1200,3862C1350,3872 1420,3926 1525,3926"/>
<path d="M790,3621C830,3800 900,3926 1000,3926"/>
<path d="M700,3621C760,3700 820,3800 830,3900C840,4000 870,4032 919,4032"/>
<path class="d" d="M704,3621C790,3700 825,3900 832,4000C840,4100 900,4136 967,4136"/>
<path class="d" d="M706,3621C795,3720 828,3950 834,4080C840,4180 880,4218 939,4218"/>
<path class="d" d="M708,3621C800,3740 830,4000 836,4150C842,4260 900,4299 967,4299"/>
<path class="d" d="M710,3621C805,3760 832,4050 838,4220C844,4340 900,4380 965,4380"/>
<path class="d" d="M712,3621C808,3780 834,4100 840,4300C846,4420 880,4461 939,4461"/>
<path class="d" d="M714,3621C810,3800 836,4150 842,4380C846,4500 860,4543 891,4543"/>
<path class="d" d="M716,3621C812,3820 836,4200 840,4450C843,4580 850,4624 864,4624"/>
<path class="d" d="M718,3621C815,3850 838,4300 842,4600C845,4720 900,4741 971,4741"/>
<path class="d" d="M720,3621C818,3870 840,4350 844,4700C846,4820 880,4847 936,4847"/>
<path class="d" d="M722,3621C820,3900 842,4400 846,4800C848,4930 900,4953 972,4953"/>
<path d="M690,3621C760,3800 824,4300 826,4800C828,5000 880,5058 970,5058"/>
<path d="M694,3621C765,3800 826,4300 828,4900C830,5100 880,5163 977,5163"/>
<path class="d" d="M724,3621C822,3920 845,4500 848,5000C850,5300 860,5376 905,5376"/>
<path class="d" d="M726,3621C824,3940 848,4550 850,5100C852,5400 880,5458 972,5458"/>
<path d="M462,5345C500,5300 560,5000 620,4500C660,4100 669,3800 669,3621"/>
<path class="d" d="M1177,3926C1260,3920 1330,3880 1380,3800C1410,3760 1430,3739 1453,3739"/>
<path class="d" d="M1177,3926C1280,3915 1380,3830 1492,3821"/>
<path class="d" d="M1177,3926C1300,3926 1400,3926 1525,3926"/>
<path class="d" d="M1177,3927C1300,3935 1400,4007 1525,4007"/>
<path class="d" d="M1177,3928C1290,3948 1390,4005 1525,4008"/>
<path class="d" d="M1177,3928C1300,3950 1340,4100 1360,4250C1375,4350 1420,4379 1475,4379"/>
<path class="d" d="M1177,3925C1300,3900 1360,3700 1420,3620C1450,3590 1470,3582 1501,3582"/>
<path class="d" d="M1177,3929C1280,3950 1350,4100 1360,4400C1368,4700 1368,5000 1380,5180C1395,5290 1440,5304 1495,5304"/>
<path class="d" d="M1177,3930C1270,3960 1345,4150 1352,4500C1357,4800 1360,4900 1400,4960C1430,4985 1470,4987 1510,4987"/>
<path class="d" d="M194,1601C245,1590 255,1420 280,1380C340,1330 600,1322 1000,1322C1250,1322 1318,1330 1330,1400C1345,1600 1350,2500 1352,3300C1354,3600 1390,3739 1453,3739"/>
<path class="d" d="M475,1601C520,1590 540,1420 580,1390C650,1350 900,1345 1100,1345C1280,1345 1322,1360 1334,1450C1350,1700 1355,2600 1358,3400C1360,3800 1400,3926 1525,3926"/>
<path class="d" d="M475,1601C525,1590 550,1440 600,1412C680,1372 900,1368 1100,1368C1285,1368 1326,1380 1338,1470C1352,1700 1360,2600 1364,3500C1368,3900 1420,4007 1525,4007"/>
<path class="d" d="M194,1601C248,1590 260,1450 290,1410C350,1360 600,1352 1000,1350C1260,1350 1322,1360 1332,1440C1348,1700 1356,2800 1360,3800C1364,4250 1410,4379 1475,4379"/>
<path class="d" d="M462,5345C600,5300 700,5225 900,5222C1200,5218 1310,5215 1340,5150C1370,5070 1420,4987 1510,4987"/>
<path class="d" d="M462,5347C600,5330 700,5307 900,5306C1200,5304 1400,5304 1495,5304"/>
<path class="d" d="M462,5350C600,5500 700,5760 900,5765C1150,5770 1310,5770 1325,5650C1340,5400 1330,5000 1345,4700C1360,4450 1420,4380 1475,4379"/>
<path class="d" d="M462,5349C600,5450 700,5800 900,5805C1150,5810 1300,5812 1320,5700C1345,5300 1380,4500 1400,4200C1420,4050 1460,4007 1525,4007"/>
<path class="d" d="M462,5351C600,5500 700,5840 900,5845C1150,5850 1300,5850 1322,5750C1340,5400 1350,4500 1360,4100C1370,3960 1420,3926 1525,3926"/>
<path class="d" d="M194,1601C228,1620 234,2000 234,3000L234,5700C234,5840 300,5885 600,5888C1000,5890 1310,5890 1328,5780C1345,5500 1335,5000 1350,4700C1365,4470 1420,4382 1475,4380"/>
<path class="d" d="M194,1601C229,1620 230,2000 230,3000L230,6050C230,6170 300,6205 600,6205C1000,6205 1300,6200 1325,6100C1345,5900 1345,5300 1360,5100C1380,5000 1440,4988 1510,4988"/>
<path class="d" d="M194,1601C226,1620 228,2000 228,3000L228,6100C228,6230 300,6262 600,6265C1000,6268 1300,6260 1380,6150C1430,6050 1420,5700 1400,5500C1385,5380 1420,5306 1495,5305"/>
<path class="d" d="M194,1601C236,1620 244,2000 246,3000C248,4500 250,5200 256,5300C260,5330 265,5345 275,5345"/>
<path class="d" d="M462,5347C600,5350 800,5376 905,5376"/>
<path class="d" d="M462,5348C620,5360 800,5458 972,5458"/>
<path class="d" d="M462,5349C620,5380 780,5540 944,5540"/>
<path class="d" d="M462,5350C600,5400 760,5621 933,5621"/>
<path class="d" d="M462,5351C580,5450 760,5738 1028,5738"/>
<path class="d" d="M462,5352C560,5500 700,5964 904,5964"/>
<path class="d" d="M462,5353C550,5550 700,6045 907,6045"/>
<path class="d" d="M462,5354C540,5600 700,6126 921,6126"/>
<path class="d" d="M475,1601C500,1620 505,2000 505,3000L505,5300C505,5480 700,5540 944,5540"/>
<path class="d" d="M475,1601C502,1620 510,2000 510,3000L510,5400C510,5580 700,5621 933,5621"/>
<path class="d" d="M475,1601C504,1620 515,2000 515,3000L515,5500C515,5700 750,5738 1028,5738"/>
<path class="d" d="M475,1601C506,1620 520,2000 520,3000L520,5750C520,5930 700,5964 904,5964"/>
<path class="d" d="M475,1601C508,1620 525,2000 525,3000L525,5850C525,6010 700,6045 907,6045"/>
<path class="d" d="M194,1601C230,1620 236,2000 236,3000L236,5420C236,5520 500,5560 700,5550C800,5545 880,5540 944,5540"/>
<path class="d" d="M194,1601C231,1620 238,2000 238,3000L238,5480C238,5600 500,5630 700,5625C800,5623 880,5621 933,5621"/>
<path class="d" d="M194,1601C232,1620 240,2000 240,3000L240,5560C240,5700 500,5740 700,5740C850,5740 950,5738 1028,5738"/>
<path class="d" d="M194,1601C233,1620 242,2000 242,3000L242,5800C242,5930 500,5966 904,5964"/>
<path class="d" d="M194,1601C234,1620 244,2000 244,3000L244,5880C244,6010 500,6047 907,6045"/>
<path class="d" d="M194,1601C235,1620 246,2000 246,3000L246,5960C246,6090 500,6128 921,6126"/>
<path class="d" d="M194,1601C260,1660 420,2500 520,3500C560,3900 650,4500 800,4700C860,4741 920,4741 971,4741"/>
</g>

<text x="8" y="6310">Generated by SchemaSpy</text>
</svg>
